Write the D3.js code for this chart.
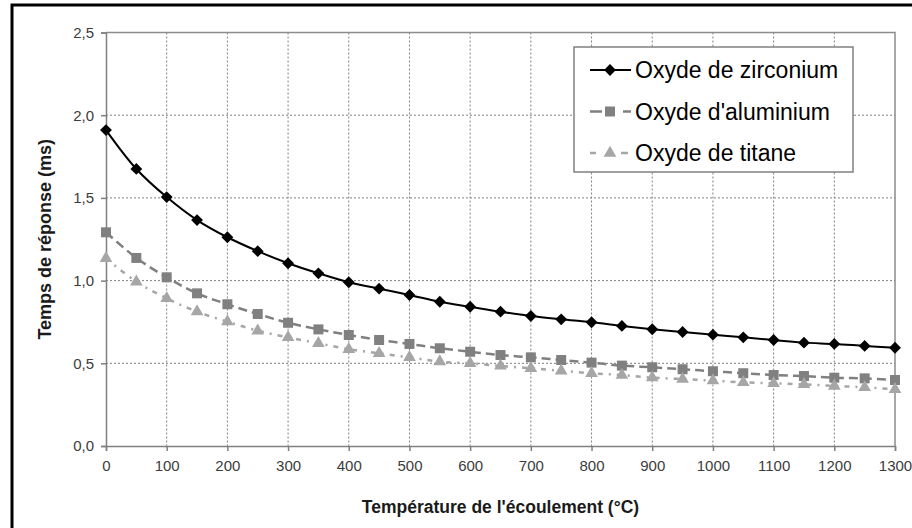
<!DOCTYPE html>
<html>
<head>
<meta charset="utf-8">
<script src="https://cdn.jsdelivr.net/npm/d3@7/dist/d3.min.js"></script>
<style>
  html, body { margin: 0; padding: 0; background: #fff; }
  svg { display: block; font-family: "Liberation Sans", Arial, sans-serif; }
</style>
</head>
<body>
<svg id="chart"></svg>
<script>
// temperatures (°C)
const temperatures = [0, 50, 100, 150, 200, 250, 300, 350, 400, 450, 500, 550, 600, 650,
    700, 750, 800, 850, 900, 950, 1000, 1050, 1100, 1150, 1200, 1250, 1300];

// response times (ms)
const zirconium = [1.91, 1.675, 1.505, 1.366, 1.262, 1.178, 1.105, 1.044, 0.99, 0.951, 0.913, 0.872, 0.842, 0.812,
    0.786, 0.766, 0.748, 0.726, 0.706, 0.689, 0.673, 0.657, 0.641, 0.625, 0.617, 0.605, 0.594];
const aluminium = [1.292, 1.137, 1.02, 0.923, 0.857, 0.798, 0.745, 0.705, 0.671, 0.641, 0.617, 0.591, 0.57, 0.55,
    0.536, 0.52, 0.504, 0.486, 0.476, 0.464, 0.452, 0.44, 0.429, 0.423, 0.413, 0.409, 0.399];
const titane = [1.135, 0.993, 0.893, 0.812, 0.752, 0.697, 0.657, 0.621, 0.585, 0.56, 0.536, 0.51, 0.5, 0.484,
    0.47, 0.455, 0.44, 0.429, 0.413, 0.405, 0.395, 0.385, 0.379, 0.373, 0.363, 0.355, 0.343];

const seriesNames = ["Oxyde de zirconium", "Oxyde d'aluminium", "Oxyde de titane"];
const xTicks = [0, 100, 200, 300, 400, 500, 600, 700, 800, 900, 1000, 1100, 1200, 1300];
const yTicks = [0, 0.5, 1.0, 1.5, 2.0, 2.5];

const W = 912, H = 528;
const margin = { top: 32.5, right: 17, bottom: 82, left: 106 };
const width = W - margin.left - margin.right;
const height = H - margin.top - margin.bottom;

const svg = d3.select("#chart").attr("width", W).attr("height", H);

// outer frame (only left/top visible in the picture)
svg.append("rect")
    .attr("x", 12).attr("y", 5)
    .attr("width", 960).attr("height", 600)
    .attr("fill", "none").attr("stroke", "#000").attr("stroke-width", 3);

const g = svg.append("g").attr("transform", `translate(${margin.left},${margin.top})`);

const x = d3.scaleLinear().domain([0, 1300]).range([0, width]);
const y = d3.scaleLinear().domain([0, 2.5]).range([height, 0]);

// grid
g.append("g").selectAll("line").data(xTicks.slice(1, -1)).enter().append("line")
    .attr("x1", d => x(d)).attr("x2", d => x(d))
    .attr("y1", 0).attr("y2", height)
    .attr("stroke", "#808080").attr("stroke-width", 1).attr("stroke-dasharray", "2,2");
g.append("g").selectAll("line").data(yTicks.slice(1, -1)).enter().append("line")
    .attr("x1", 0).attr("x2", width)
    .attr("y1", d => y(d)).attr("y2", d => y(d))
    .attr("stroke", "#808080").attr("stroke-width", 1).attr("stroke-dasharray", "2,2");

// plot-area border on top and right
g.append("path")
    .attr("d", `M0,0H${width}V${height}`)
    .attr("fill", "none").attr("stroke", "#8c8c8c").attr("stroke-width", 1.5);

// axes
const fmt = d3.format(".1f");
const xAxis = g.append("g")
    .attr("transform", `translate(0,${height})`)
    .call(d3.axisBottom(x).tickValues(xTicks).tickSize(5).tickPadding(9).tickFormat(d3.format("d")));
const yAxis = g.append("g")
    .call(d3.axisLeft(y).tickValues(yTicks).tickSize(5).tickPadding(7).tickFormat(d => fmt(d).replace(".", ",")));

[xAxis, yAxis].forEach(a => {
    a.select(".domain").attr("stroke", "#808080").attr("stroke-width", 1.5);
    a.selectAll(".tick line").attr("stroke", "#808080").attr("stroke-width", 1.5);
    a.selectAll(".tick text").attr("fill", "#3c3c3c")
        .style("font-size", "15px").style("font-family", "'Liberation Sans', Arial, sans-serif");
});

// axis titles
g.append("text")
    .attr("x", width / 2).attr("y", height + 67)
    .attr("text-anchor", "middle")
    .style("font-size", "17.5px").attr("font-weight", "bold").attr("fill", "#1a1a1a")
    .text("Température de l'écoulement (°C)");
g.append("text")
    .attr("transform", "rotate(-90)")
    .attr("x", -height / 2).attr("y", -55)
    .attr("text-anchor", "middle")
    .style("font-size", "18px").attr("font-weight", "bold").attr("fill", "#1a1a1a")
    .text("Temps de réponse (ms)");

// series
const series = [
    { name: seriesNames[0], values: zirconium, color: "#000", dash: null, width: 2, marker: d3.symbolSquare, size: 70, rot: 45 },
    { name: seriesNames[1], values: aluminium, color: "#808080", dash: "9,5", width: 2.5, marker: d3.symbolSquare, size: 100, rot: 0 },
    { name: seriesNames[2], values: titane, color: "#a6a6a6", dash: "5,6,2,6", width: 2.5, marker: d3.symbolTriangle, size: 70, rot: 0 }
];

const line = d3.line()
    .x((d, i) => x(temperatures[i]))
    .y(d => y(d))
    .curve(d3.curveCatmullRom.alpha(0.5));

series.forEach(s => {
    g.append("path")
        .datum(s.values)
        .attr("fill", "none")
        .attr("stroke", s.color)
        .attr("stroke-width", s.width)
        .attr("stroke-dasharray", s.dash)
        .attr("d", line);
    g.append("g").selectAll("path")
        .data(s.values).enter().append("path")
        .attr("d", d3.symbol().type(s.marker).size(s.size))
        .attr("transform", (d, i) => `translate(${x(temperatures[i])},${y(d)}) rotate(${s.rot})`)
        .attr("fill", s.color);
});

// legend
const lg = svg.append("g").attr("transform", "translate(574,47)");
lg.append("rect")
    .attr("width", 279).attr("height", 125)
    .attr("fill", "#fff").attr("stroke", "#808080").attr("stroke-width", 1.5);
series.forEach((s, i) => {
    const row = lg.append("g").attr("transform", `translate(0,${23 + i * 41.5})`);
    row.append("line")
        .attr("x1", 16).attr("x2", 57)
        .attr("stroke", s.color).attr("stroke-width", s.width)
        .attr("stroke-dasharray", i === 0 ? null : (i === 1 ? "12,5,0,16,14" : "6,9,0,16,7"));
    row.append("path")
        .attr("d", d3.symbol().type(s.marker).size(s.size))
        .attr("transform", `translate(36,0) rotate(${s.rot})`)
        .attr("fill", s.color);
    row.append("text")
        .attr("x", 61).attr("y", 0).attr("dy", "0.35em")
        .style("font-size", "23px").attr("fill", "#000")
        .text(s.name);
});
</script>
</body>
</html>
